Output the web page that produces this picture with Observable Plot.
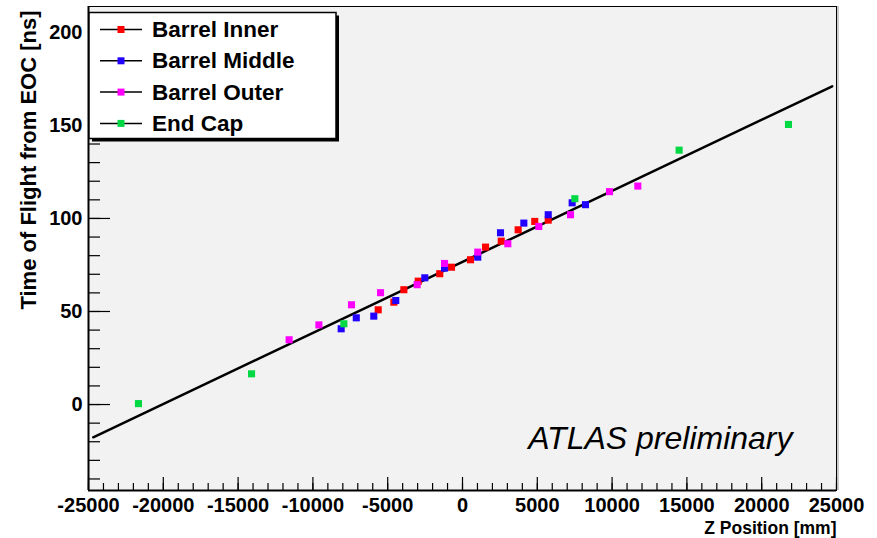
<!DOCTYPE html>
<html><head><meta charset="utf-8">
<script src="https://cdn.jsdelivr.net/npm/d3@7"></script>
<script src="https://cdn.jsdelivr.net/npm/@observablehq/plot@0.6"></script>
<style>body{margin:0;background:#fff}#chart{width:877px;height:538px}</style>
</head><body><div id="chart"></div>
<script>
// ---- data ----
const seriesNames = ["Barrel Inner", "Barrel Middle", "Barrel Outer", "End Cap"];
const seriesColors = ["#ff0000", "#2200ff", "#ff00ff", "#00d844"];

const innerZ = [-5635, -4590, -3920, -2960, -1520, -735, 535, 1540, 2590, 3720, 4830, 5730];
const innerT = [50.9, 55.0, 61.7, 66.3, 70.3, 73.8, 77.8, 84.6, 87.8, 93.9, 98.4, 99.1];
const middleZ = [-8110, -7100, -5930, -4460, -2520, -1200, 1020, 2540, 4100, 5730, 7330, 8220];
const middleT = [40.7, 46.6, 47.5, 55.9, 68.1, 73.3, 79.2, 92.3, 97.5, 102.0, 108.4, 107.4];
const outerZ = [-11590, -9600, -7420, -5480, -3030, -1200, 1020, 3030, 5100, 7220, 9830, 11720];
const outerT = [34.8, 42.8, 53.6, 60.1, 64.4, 75.8, 81.9, 86.4, 95.7, 102.0, 114.4, 117.4];
const endcapZ = [-21660, -14100, -7930, 7510, 14480, 21790];
const endcapT = [0.5, 16.5, 43.4, 110.6, 136.7, 150.5];

const fitZ = [-24684, 24711];
const fitT = [-17.6, 171.0];

const xDomain = [-25000, 25000];
const yDomain = [-46.2, 213.9];
const xMajorTicks = [-25000, -20000, -15000, -10000, -5000, 0, 5000, 10000, 15000, 20000, 25000];
const yMajorTicks = [0, 50, 100, 150, 200];
const xMinorTicks = d3.range(-25000, 25001, 1000);
const yMinorTicks = d3.range(-40, 211, 10);

const xTitle = "Z Position [mm]";
const yTitle = "Time of Flight from EOC [ns]";
const annotation = "ATLAS preliminary";

// ---- build tables ----
const seriesZ = [innerZ, middleZ, outerZ, endcapZ];
const seriesT = [innerT, middleT, outerT, endcapT];
const points = seriesNames.flatMap((s, i) => seriesZ[i].map((z, j) => ({series: s, z, t: seriesT[i][j]})));
const fit = fitZ.map((z, i) => ({z, t: fitT[i]}));

// ---- layout ----
const W = 877, H = 538;
const mL = 88, mR = 41, mT = 6, mB = 48;
const plotW = W - mL - mR, plotH = H - mT - mB;
const font = "'Liberation Sans', Arial, Helvetica, sans-serif";

const chart = Plot.plot({
  width: W, height: H,
  marginLeft: mL, marginRight: mR, marginTop: mT, marginBottom: mB,
  x: {domain: xDomain},
  y: {domain: yDomain},
  color: {domain: seriesNames, range: seriesColors},
  style: {fontFamily: font, background: "white", overflow: "visible"},
  marks: [
    Plot.frame({fill: "#f2f2f2", stroke: "none"}),
    Plot.line(fit, {x: "z", y: "t", stroke: "black", strokeWidth: 2.5}),
    Plot.dot(points, {x: "z", y: "t", fill: "series", symbol: "square", r: 4, stroke: "none"}),
    // ticks pointing inward
    Plot.tickX(xMinorTicks, {x: d => d, insetTop: plotH - 7, stroke: "black", strokeWidth: 1.2}),
    Plot.tickX(xMajorTicks, {x: d => d, insetTop: plotH - 13, stroke: "black", strokeWidth: 1.2}),
    Plot.tickY(yMinorTicks, {y: d => d, insetRight: plotW - 12, stroke: "black", strokeWidth: 1.2}),
    Plot.tickY(yMajorTicks, {y: d => d, insetRight: plotW - 22, stroke: "black", strokeWidth: 1.2}),
    Plot.axisX({ticks: xMajorTicks, tickSize: 0, tickPadding: 7, tickFormat: d => String(d), label: null,
      fontSize: 20, fontWeight: "bold", fill: "black"}),
    Plot.axisY({ticks: yMajorTicks, tickSize: 0, tickPadding: 6, tickFormat: d => String(d), label: null,
      fontSize: 20, fontWeight: "bold", fill: "black"}),
    Plot.frame({stroke: "black", strokeWidth: 1}),
    Plot.ruleX([xDomain[1]], {stroke: "#999", strokeWidth: 1, dx: 1.5}),
    Plot.ruleX([xDomain[0]], {stroke: "black", strokeWidth: 2}),
    Plot.ruleY([yDomain[0]], {stroke: "black", strokeWidth: 2}),
    Plot.text([xTitle], {frameAnchor: "bottom-right", textAnchor: "end", lineAnchor: "bottom", dy: 43,
      fontSize: 17.5, fontWeight: "bold", fill: "black"}),
    Plot.text([yTitle], {frameAnchor: "top-left", textAnchor: "end", lineAnchor: "middle", rotate: -90,
      dx: -60, dy: 4, fontSize: 22, fontWeight: "bold", fill: "black"}),
    Plot.text([annotation], {frameAnchor: "bottom-right", textAnchor: "end", lineAnchor: "bottom",
      dx: -44, dy: -42, fontSize: 32, fontStyle: "italic", fill: "black"})
  ]
});
document.getElementById("chart").appendChild(chart);

// ---- legend (inside plot, top-left) ----
const svg = d3.select(chart);
const lg = svg.append("g").attr("font-family", font).attr("text-anchor", "start");
const bx = 89, by = 12.5, bw = 247, bh = 126;
lg.append("rect").attr("x", bx + 3).attr("y", by + 3).attr("width", bw).attr("height", bh).attr("fill", "black");
lg.append("rect").attr("x", bx).attr("y", by).attr("width", bw).attr("height", bh)
  .attr("fill", "white").attr("stroke", "black").attr("stroke-width", 1.5);
seriesNames.forEach((name, i) => {
  const cy = 29.5 + i * 31.3;
  lg.append("line").attr("x1", 100).attr("x2", 142).attr("y1", cy).attr("y2", cy)
    .attr("stroke", "black").attr("stroke-width", 1.5);
  lg.append("rect").attr("x", 117.5).attr("y", cy - 3.5).attr("width", 7).attr("height", 7).attr("fill", seriesColors[i]);
  lg.append("text").attr("x", 152).attr("y", cy + 7.5).attr("font-size", 22.5).attr("font-weight", "bold")
    .attr("text-anchor", "start").attr("fill", "black").text(name);
});
</script>
</body></html>
